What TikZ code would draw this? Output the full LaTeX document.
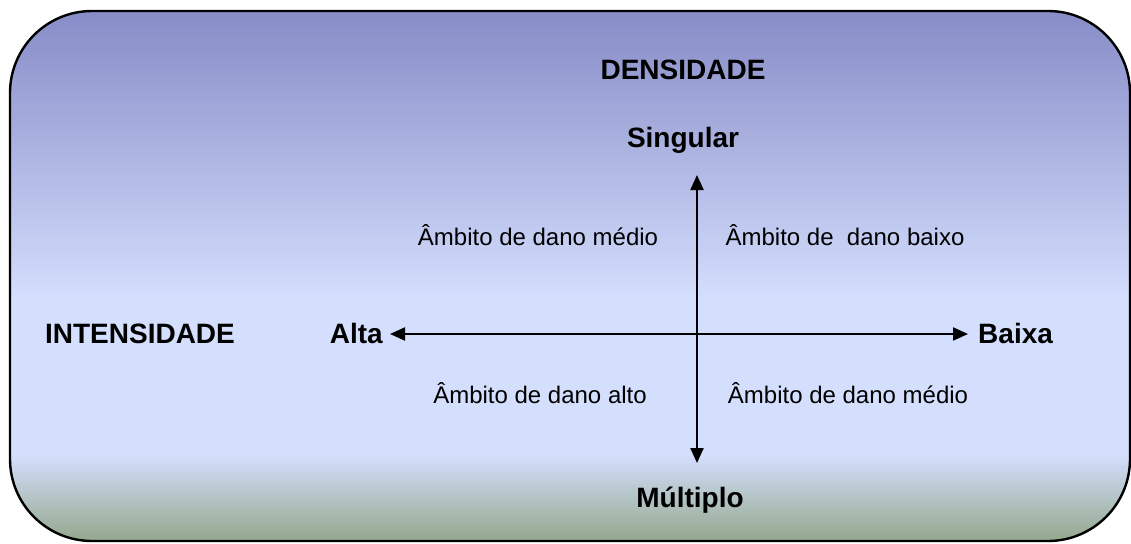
\documentclass[tikz,border=0pt]{standalone}
\usepackage{fontspec}
\setmainfont{Liberation Sans}
\usetikzlibrary{arrows.meta}
\definecolor{topc}{RGB}{132,137,197}
\definecolor{midc}{RGB}{212,222,253}
\definecolor{botc}{RGB}{146,167,138}
\tikzset{
  boldlbl/.style={font=\fontsize{28}{30}\selectfont\bfseries, inner sep=0pt},
  reglbl/.style={font=\fontsize{24}{26}\selectfont, inner sep=0pt},
  axis/.style={line width=2.2pt, {Triangle[length=15pt,width=13pt]}-{Triangle[length=15pt,width=13pt]}},
}
\begin{document}
\begin{tikzpicture}[x=1pt,y=-1pt]
\useasboundingbox (0,0) rectangle (1131,543);
\begin{scope}
  \clip[rounded corners=82pt] (10,11) rectangle (1130,541);
  \fill[top color=topc, bottom color=midc] (0,0) rectangle (1131,300);
  \fill[midc] (0,299) rectangle (1131,456);
  \fill[top color=midc, bottom color=botc] (0,455) rectangle (1131,543);
\end{scope}
\draw[line width=2.4pt, rounded corners=82pt] (10,11) rectangle (1130,541);

\node[boldlbl, anchor=base] (dens) at (683,79) {DENSIDADE};
\node[boldlbl, anchor=base] (sing) at (683,147) {Singular};
\node[boldlbl, anchor=base] (mult) at (690,507) {Múltiplo};
\node[boldlbl, anchor=base] (inten) at (140,343) {INTENSIDADE};
\node[boldlbl, anchor=base east] (alta) at (383,343) {Alta};
\node[boldlbl, anchor=base west] (baixa) at (978,343) {Baixa};

\node[reglbl, anchor=base] (q1) at (538,245) {Âmbito de dano médio};
\node[reglbl, anchor=base] (q2) at (845,245) {Âmbito de\ \ dano baixo};
\node[reglbl, anchor=base] (q3) at (540,403) {Âmbito de dano alto};
\node[reglbl, anchor=base] (q4) at (848,403) {Âmbito de dano médio};

\coordinate (vtop) at (697,175);
\coordinate (vbot) at (697,463);
\coordinate (hleft) at (390,334);
\coordinate (hright) at (968,334);
\draw[axis] (vtop) -- (vbot);
\draw[axis] (hleft) -- (hright);
\end{tikzpicture}
\end{document}
